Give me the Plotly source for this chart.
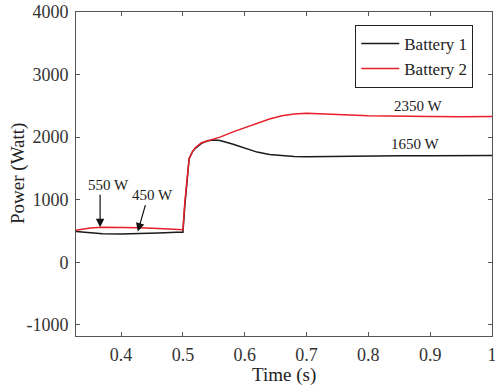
import plotly.graph_objects as go

time_s = [0.327, 0.35, 0.37, 0.4, 0.43, 0.46, 0.49, 0.5, 0.503, 0.507, 0.51, 0.515, 0.52,
          0.53, 0.54, 0.55, 0.56, 0.58, 0.6, 0.62, 0.64, 0.66, 0.68, 0.7, 0.72, 0.75,
          0.8, 0.85, 0.9, 0.95, 1.0]
battery1 = [490, 465, 455, 450, 455, 465, 478, 480, 900, 1400, 1650, 1760, 1820,
            1900, 1940, 1955, 1945, 1890, 1820, 1760, 1720, 1700, 1690, 1685, 1688, 1690,
            1695, 1700, 1700, 1700, 1705]
battery2 = [510, 545, 560, 560, 550, 540, 525, 520, 950, 1420, 1660, 1760, 1830,
            1910, 1940, 1965, 2000, 2080, 2150, 2230, 2290, 2340, 2370, 2380, 2375, 2360,
            2340, 2330, 2330, 2325, 2330]

x_ticks = [0.4, 0.5, 0.6, 0.7, 0.8, 0.9, 1.0]
x_ticktext = ["0.4", "0.5", "0.6", "0.7", "0.8", "0.9", "1"]
y_ticks = [-1000, 0, 1000, 2000, 3000, 4000]
y_ticktext = ["-1000", "0", "1000", "2000", "3000", "4000"]

FONT = "Liberation Serif"
AX = "#555555"

fig = go.Figure()
fig.add_trace(go.Scatter(x=time_s, y=battery1, mode="lines", name="Battery 1",
                         line=dict(color="#1a1a1a", width=1.5)))
fig.add_trace(go.Scatter(x=time_s, y=battery2, mode="lines", name="Battery 2",
                         line=dict(color="#e8202a", width=1.5)))

ann_font = dict(family=FONT, size=15, color="#1a1a1a")
# text labels
fig.add_annotation(x=0.379, y=1231, text="550 W", showarrow=False, font=ann_font)
fig.add_annotation(x=0.450, y=1071, text="450 W", showarrow=False, font=ann_font)
fig.add_annotation(x=0.880, y=2494, text="2350 W", showarrow=False, font=ann_font)
fig.add_annotation(x=0.876, y=1886, text="1650 W", showarrow=False, font=ann_font)
# arrows
fig.add_annotation(x=0.366, y=560, text="", showarrow=True, ax=0, ay=-34,
                   arrowhead=2, arrowsize=1.4, arrowwidth=1.2, arrowcolor="#111111")
fig.add_annotation(x=0.427, y=490, text="", showarrow=True, ax=8, ay=-28,
                   arrowhead=2, arrowsize=1.4, arrowwidth=1.2, arrowcolor="#111111")

# axis titles (placed as paper annotations for exact positioning)
title_font = dict(family=FONT, size=19, color="#222222")
fig.add_annotation(xref="paper", yref="paper", x=0.5, y=0, yshift=-39,
                   xanchor="center", yanchor="middle",
                   text="Time (s)", showarrow=False, font=title_font)
fig.add_annotation(xref="paper", yref="paper", x=0, y=0.5, xshift=-58,
                   xanchor="center", yanchor="middle",
                   text="Power (Watt)", textangle=-90, showarrow=False, font=title_font)

fig.update_layout(
    width=495, height=388,
    margin=dict(l=76, r=3, t=12, b=52),
    paper_bgcolor="white", plot_bgcolor="white",
    font=dict(family=FONT, size=18, color="#333333"),
    showlegend=True,
    legend=dict(x=0.955, y=0.96, xanchor="right", yanchor="top",
                bordercolor="#222222", borderwidth=1, bgcolor="white",
                font=dict(family=FONT, size=17, color="#222222"),
                itemwidth=38, tracegroupgap=0),
    xaxis=dict(range=[0.327, 1.0], tickvals=x_ticks, ticktext=x_ticktext,
               ticks="inside", ticklen=4, tickcolor=AX, showline=True, linecolor=AX,
               linewidth=1, mirror="ticks", showgrid=False, zeroline=False,
               ticklabelstandoff=2, ticklabeloverflow="allow", automargin=False),
    yaxis=dict(range=[-1180, 4000], tickvals=y_ticks, ticktext=y_ticktext,
               ticks="inside", ticklen=4, tickcolor=AX, showline=True, linecolor=AX,
               linewidth=1, mirror="ticks", showgrid=False, zeroline=False,
               ticklabelstandoff=3, ticklabeloverflow="allow", automargin=False),
)

fig.write_html("out.html",
               config={"displayModeBar": False},
               post_script="document.body.style.margin='0';document.body.style.overflow='hidden';")
